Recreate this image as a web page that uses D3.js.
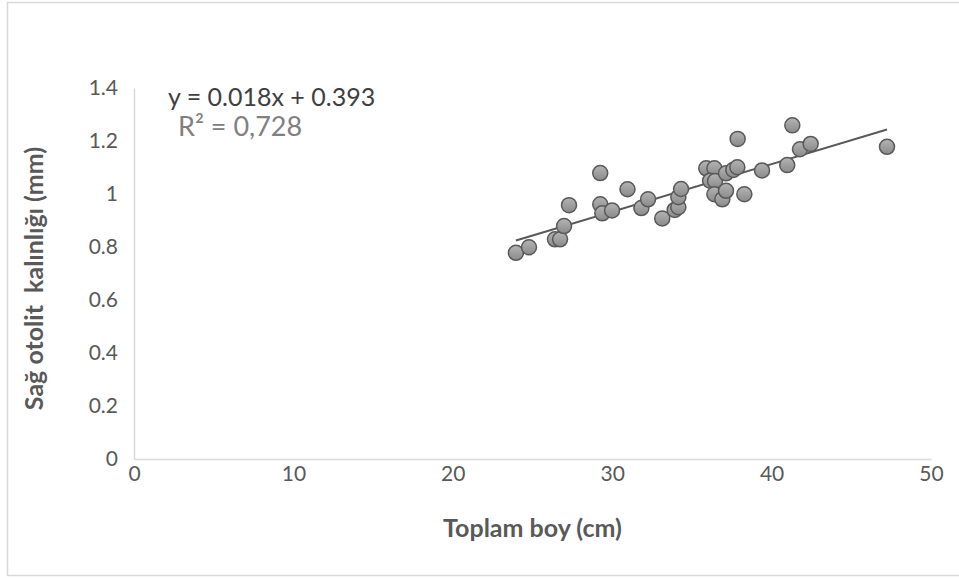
<!DOCTYPE html>
<html><head><meta charset="utf-8">
<script src="https://cdn.jsdelivr.net/npm/d3@7"></script>
<style>body{margin:0;background:#fff}svg{display:block}</style>
</head><body><svg id="c" width="959" height="578"></svg>
<script>
const xTicks = [0, 10, 20, 30, 40, 50];
const yTicks = [0, 0.2, 0.4, 0.6, 0.8, 1, 1.2, 1.4];
const lengths = [23.96, 24.78, 26.41, 26.73, 26.98, 27.29, 29.25, 29.25, 29.38, 29.99, 30.96, 31.83, 32.25, 33.14, 33.92, 34.15, 34.15, 34.32, 35.90, 36.41, 36.14, 36.45, 36.41, 36.91, 37.14, 37.14, 37.60, 37.85, 37.87, 38.29, 39.40, 40.98, 41.30, 41.78, 42.45, 47.24];
const thickness = [0.778, 0.799, 0.829, 0.829, 0.879, 0.958, 1.079, 0.961, 0.927, 0.938, 1.018, 0.947, 0.980, 0.908, 0.940, 0.950, 0.988, 1.019, 1.097, 1.097, 1.050, 1.049, 0.999, 0.980, 1.012, 1.078, 1.091, 1.101, 1.208, 0.999, 1.089, 1.109, 1.259, 1.169, 1.189, 1.178];
const trend = {slope: 0.018, intercept: 0.393};
const eqText = "y = 0.018x + 0.393";
const r2Text = "R² = 0,728";
const xTitle = "Toplam boy (cm)";
const yTitle = "Sağ otolit  kalınlığı (mm)";

const svg = d3.select("#c");
const font = "Lato, 'Open Sans', sans-serif";
const x = d3.scaleLinear().domain([0, 50]).range([134, 931]);
const y = d3.scaleLinear().domain([0, 1.4]).range([459, 88]);

svg.append("rect").attr("x", 7.5).attr("y", 2.5).attr("width", 1000).attr("height", 573)
  .attr("fill", "none").attr("stroke", "#d9d9d9").attr("stroke-width", 1.5);

const defs = svg.append("defs");
const g = defs.append("linearGradient").attr("id", "pg").attr("x1", 0).attr("y1", 0).attr("x2", 0).attr("y2", 1);
g.append("stop").attr("offset", "0%").attr("stop-color", "#b4b4b4");
g.append("stop").attr("offset", "100%").attr("stop-color", "#8a8a8a");

const xa = svg.append("g").attr("transform", `translate(0,${y(0)})`)
  .call(d3.axisBottom(x).tickValues(xTicks).tickSize(0).tickPadding(7).tickFormat(d3.format("d")));
const ya = svg.append("g").attr("transform", `translate(${x(0)},0)`)
  .call(d3.axisLeft(y).tickValues(yTicks).tickSize(0).tickPadding(16).tickFormat(d => String(d)));
[xa, ya].forEach(a => {
  a.select(".domain").attr("stroke", "#d9d9d9").attr("stroke-width", 1.5);
  a.selectAll("text").attr("fill", "#595959").attr("font-family", font).attr("font-size", 21);
});

const xmin = d3.min(lengths), xmax = d3.max(lengths);
svg.append("line")
  .attr("x1", x(xmin)).attr("y1", y(trend.slope * xmin + trend.intercept))
  .attr("x2", x(xmax)).attr("y2", y(trend.slope * xmax + trend.intercept))
  .attr("stroke", "#595959").attr("stroke-width", 2);

svg.append("g").selectAll("circle").data(lengths.map((d, i) => [d, thickness[i]])).join("circle")
  .attr("cx", d => x(d[0])).attr("cy", d => y(d[1])).attr("r", 7.5)
  .attr("fill", "url(#pg)").attr("stroke", "#595959").attr("stroke-width", 1.5);

svg.append("text").attr("x", 168).attr("y", 106).attr("fill", "#404040")
  .attr("font-family", font).attr("font-size", 25).text(eqText);
svg.append("text").attr("x", 178).attr("y", 136).attr("fill", "#808080")
  .attr("font-family", font).attr("font-size", 27).text(r2Text);

svg.append("text").attr("x", (x(0) + x(50)) / 2).attr("y", 537).attr("text-anchor", "middle")
  .attr("fill", "#595959").attr("font-family", font).attr("font-weight", "bold").attr("font-size", 25).text(xTitle);
svg.append("text").attr("transform", `translate(43,${(y(0) + y(1.4)) / 2 + 5}) rotate(-90)`).attr("text-anchor", "middle")
  .attr("fill", "#595959").attr("font-family", font).attr("font-weight", "bold").attr("font-size", 25)
  .attr("xml:space", "preserve").style("white-space", "pre").text(yTitle);
</script></body></html>
